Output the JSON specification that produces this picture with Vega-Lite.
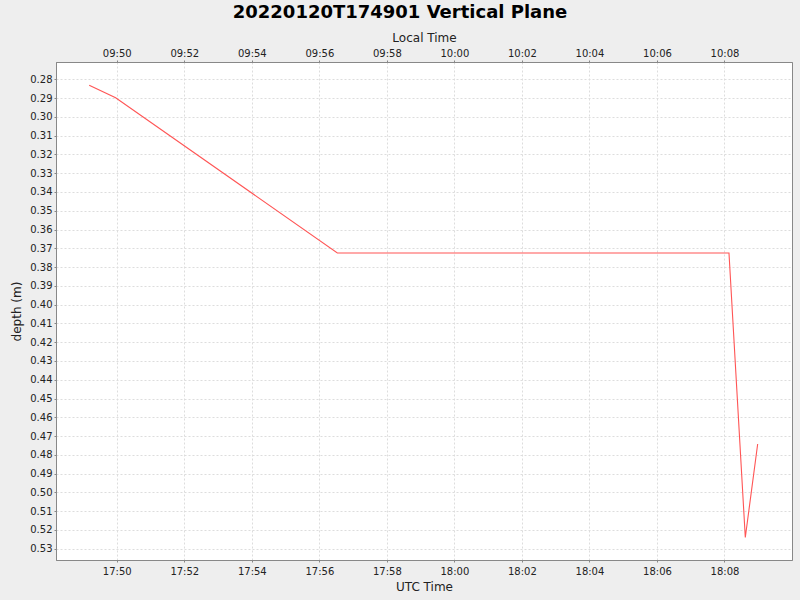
{
  "$schema": "https://vega.github.io/schema/vega-lite/v6.json",
  "width": 736,
  "height": 498,
  "autosize": {"type": "none"},
  "padding": {"left": 56, "top": 62, "right": 8, "bottom": 40},
  "background": "#EEEEEE",
  "config": {
    "view": {"fill": "#FFFFFF", "stroke": "#888888", "strokeWidth": 1},
    "font": "DejaVu Sans",
    "axis": {
      "labelFont": "DejaVu Sans", "labelFontSize": 10, "labelColor": "#222222",
      "titleFont": "DejaVu Sans", "titleFontSize": 12, "titleFontWeight": "normal", "titleColor": "#222222",
      "domainColor": "#888888", "tickColor": "#888888", "tickSize": 2,
      "gridColor": "#DDDDDD", "gridDash": [2, 2], "gridWidth": 1
    }
  },
  "title": {
    "text": "20220120T174901 Vertical Plane",
    "font": "DejaVu Sans", "fontSize": 18, "fontWeight": "bold", "color": "#000000",
    "anchor": "middle", "dx": -24, "offset": 9
  },
  "data": {
    "values": [
      {"t": "2022-01-20T17:49:11Z", "depth": 0.2832},
      {"t": "2022-01-20T17:49:58Z", "depth": 0.2898},
      {"t": "2022-01-20T17:56:32Z", "depth": 0.3725},
      {"t": "2022-01-20T18:08:08Z", "depth": 0.3725},
      {"t": "2022-01-20T18:08:37Z", "depth": 0.524},
      {"t": "2022-01-20T18:08:59Z", "depth": 0.4742}
    ]
  },
  "encoding": {
    "y": {
      "field": "depth", "type": "quantitative",
      "scale": {"domain": [0.2708, 0.536], "reverse": true, "nice": false, "zero": false},
      "axis": {
        "title": "depth (m)", "format": ".2f",
        "values": [0.28,0.29,0.30,0.31,0.32,0.33,0.34,0.35,0.36,0.37,0.38,0.39,0.40,0.41,0.42,0.43,0.44,0.45,0.46,0.47,0.48,0.49,0.50,0.51,0.52,0.53],
        "labelPadding": 2, "titlePadding": 6
      }
    }
  },
  "layer": [
    {
      "mark": {"type": "line", "color": "#FF5555", "strokeWidth": 1.1},
      "encoding": {
        "x": {
          "field": "t", "type": "temporal",
          "scale": {"type": "utc", "nice": false,
            "domain": [
              {"year": 2022, "month": 1, "date": 20, "hours": 17, "minutes": 48, "seconds": 12, "utc": true},
              {"year": 2022, "month": 1, "date": 20, "hours": 18, "minutes": 10, "seconds": 0, "utc": true}
            ]},
          "axis": {
            "orient": "bottom", "title": "UTC Time",
            "values": [
              {"year": 2022, "month": 1, "date": 20, "hours": 17, "minutes": 50, "utc": true},
              {"year": 2022, "month": 1, "date": 20, "hours": 17, "minutes": 52, "utc": true},
              {"year": 2022, "month": 1, "date": 20, "hours": 17, "minutes": 54, "utc": true},
              {"year": 2022, "month": 1, "date": 20, "hours": 17, "minutes": 56, "utc": true},
              {"year": 2022, "month": 1, "date": 20, "hours": 17, "minutes": 58, "utc": true},
              {"year": 2022, "month": 1, "date": 20, "hours": 18, "minutes": 0, "utc": true},
              {"year": 2022, "month": 1, "date": 20, "hours": 18, "minutes": 2, "utc": true},
              {"year": 2022, "month": 1, "date": 20, "hours": 18, "minutes": 4, "utc": true},
              {"year": 2022, "month": 1, "date": 20, "hours": 18, "minutes": 6, "utc": true},
              {"year": 2022, "month": 1, "date": 20, "hours": 18, "minutes": 8, "utc": true}
            ],
            "labelExpr": "utcFormat(datum.value, '%H:%M')",
            "labelPadding": 4, "titlePadding": 5
          }
        }
      }
    },
    {
      "mark": {"type": "line", "color": "#FF5555", "strokeWidth": 1, "opacity": 0},
      "encoding": {
        "x": {
          "field": "t", "type": "temporal",
          "scale": {"type": "utc", "nice": false,
            "domain": [
              {"year": 2022, "month": 1, "date": 20, "hours": 17, "minutes": 48, "seconds": 12, "utc": true},
              {"year": 2022, "month": 1, "date": 20, "hours": 18, "minutes": 10, "seconds": 0, "utc": true}
            ]},
          "axis": {
            "orient": "top", "title": "Local Time", "grid": false,
            "values": [
              {"year": 2022, "month": 1, "date": 20, "hours": 17, "minutes": 50, "utc": true},
              {"year": 2022, "month": 1, "date": 20, "hours": 17, "minutes": 52, "utc": true},
              {"year": 2022, "month": 1, "date": 20, "hours": 17, "minutes": 54, "utc": true},
              {"year": 2022, "month": 1, "date": 20, "hours": 17, "minutes": 56, "utc": true},
              {"year": 2022, "month": 1, "date": 20, "hours": 17, "minutes": 58, "utc": true},
              {"year": 2022, "month": 1, "date": 20, "hours": 18, "minutes": 0, "utc": true},
              {"year": 2022, "month": 1, "date": 20, "hours": 18, "minutes": 2, "utc": true},
              {"year": 2022, "month": 1, "date": 20, "hours": 18, "minutes": 4, "utc": true},
              {"year": 2022, "month": 1, "date": 20, "hours": 18, "minutes": 6, "utc": true},
              {"year": 2022, "month": 1, "date": 20, "hours": 18, "minutes": 8, "utc": true}
            ],
            "labelExpr": "utcFormat(datum.value - 28800000, '%H:%M')",
            "labelPadding": 2, "titlePadding": 4
          }
        }
      }
    }
  ],
  "resolve": {"scale": {"x": "independent"}}
}
